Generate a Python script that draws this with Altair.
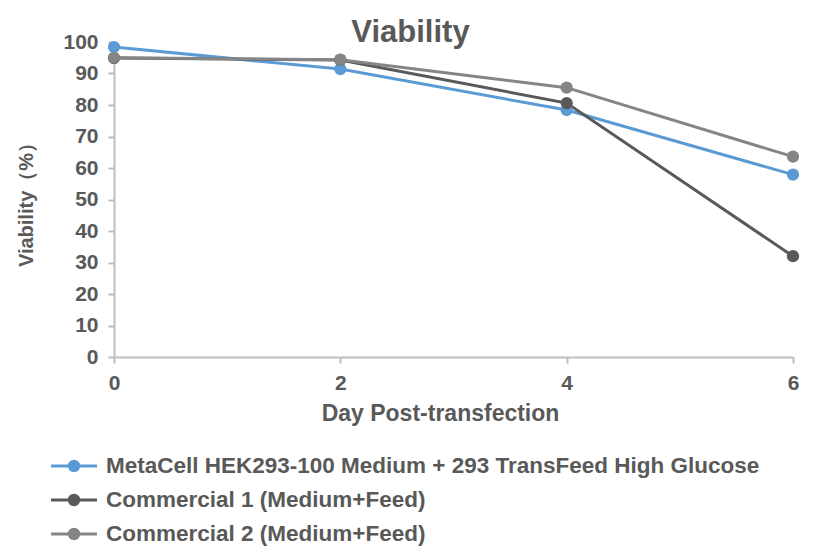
import altair as alt
import pandas as pd

days = [0, 2, 4, 6]
series_names = [
    "MetaCell HEK293-100 Medium + 293 TransFeed High Glucose",
    "Commercial 1 (Medium+Feed)",
    "Commercial 2 (Medium+Feed)",
]
metacell = [98.4, 91.4, 78.4, 57.9]
commercial1 = [94.9, 94.3, 80.6, 32.0]
commercial2 = [95.0, 94.4, 85.5, 63.6]
colors = ["#5B9BD5", "#595959", "#858585"]

rows = []
for name, vals in zip(series_names, [metacell, commercial1, commercial2]):
    for d, v in zip(days, vals):
        rows.append({"Day": d, "Viability": v, "Series": name})
df = pd.DataFrame(rows)

FONT = "Liberation Sans, Arial, sans-serif"
TXT = "#595959"

legend_path = ("M-1.6,0L1.6,0M0.33,0A0.33,0.33 0 1,1 -0.33,0A0.33,0.33 0 1,1 0.33,0Z")

color = alt.Color(
    "Series:N",
    scale=alt.Scale(domain=series_names, range=colors),
    sort=series_names,
    legend=alt.Legend(
        title=None,
        orient="none",
        legendX=-56,
        legendY=408,
        direction="vertical",
        symbolType=legend_path,
        symbolSize=827,
        symbolStrokeWidth=3,
        labelFont=FONT,
        labelFontSize=22.5,
        labelFontWeight="bold",
        labelColor=TXT,
        labelLimit=800,
        rowPadding=6,
        labelOffset=16,
    ),
)

axis_common = dict(
    grid=False,
    domainColor="#BFBFBF",
    domainWidth=2,
    tickColor="#BFBFBF",
    tickWidth=2,
    tickSize=6,
    labelFont=FONT,
    labelFontSize=21,
    labelFontWeight="bold",
    labelColor=TXT,
    labelFlush=False,
    titleFont=FONT,
    titleFontWeight="bold",
    titleColor=TXT,
)

base = alt.Chart(df).encode(
    x=alt.X(
        "Day:Q",
        scale=alt.Scale(domain=[0, 6], nice=False, zero=True),
        axis=alt.Axis(
            values=days,
            title="Day Post-transfection",
            labelPadding=9,
            titleFontSize=23,
            titlePadding=9,
            titleX=326,
            **axis_common,
        ),
    ),
    y=alt.Y(
        "Viability:Q",
        scale=alt.Scale(domain=[0, 100], nice=False),
        axis=alt.Axis(
            values=list(range(0, 101, 10)),
            title="Viability（%）",
            labelPadding=10,
            titleFontSize=20,
            titlePadding=26,
            **axis_common,
        ),
    ),
    color=color,
    order=alt.Order("Day:Q"),
)

lines = base.mark_line(strokeWidth=3)
points = base.mark_circle(size=150, opacity=1)

chart = (
    alt.layer(lines, points)
    .properties(
        width=679,
        height=315,
        background="white",
        title=alt.TitleParams(
            "Viability",
            font=FONT,
            fontSize=31,
            fontWeight="bold",
            color=TXT,
            dx=-43,
            offset=-18,
        ),
        autosize=alt.AutoSizeParams(type="none"),
        padding={"left": 106, "top": 34, "right": 16, "bottom": 190},
    )
    .configure_view(stroke="transparent", strokeWidth=0)
)

chart.save("out.html", embed_options={"renderer": "svg", "actions": False})
